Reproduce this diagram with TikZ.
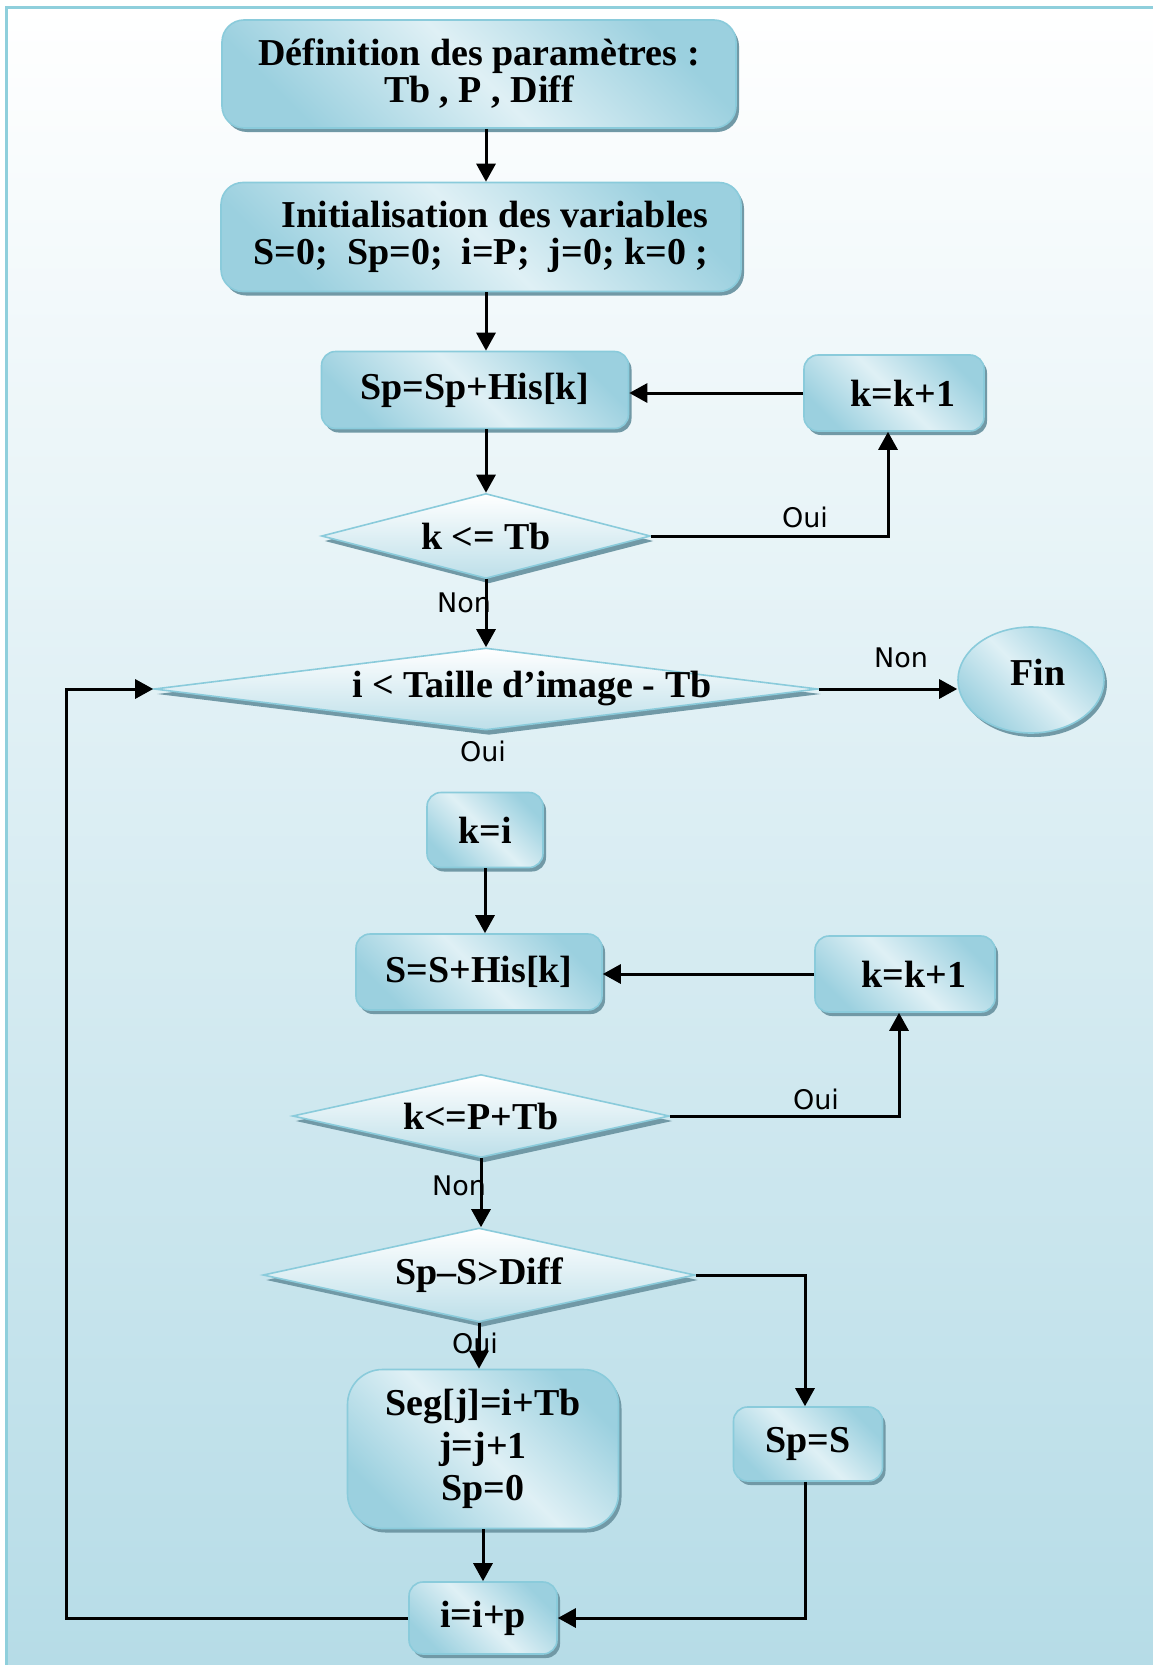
\documentclass[tikz,border=0pt]{standalone}
\usepackage{fontspec}
\setmainfont{Liberation Serif}
\newfontfamily\lblfont{DejaVu Sans}
\usetikzlibrary{arrows.meta,shapes.geometric,shadows}

\definecolor{framecol}{HTML}{8FCFDC}
\definecolor{bgmid}{HTML}{E4F2F6}
\definecolor{bgbot}{HTML}{B6DCE7}
\definecolor{boxlight}{HTML}{DFF0F5}
\definecolor{boxdark}{HTML}{9BD0DF}
\definecolor{boxedge}{HTML}{8ACBDB}
\definecolor{shadowcol}{HTML}{7199A6}
\definecolor{diabot}{HTML}{BDDFE9}

\pgfdeclarehorizontalshading{glassy}{100bp}{color(0bp)=(boxdark); color(25bp)=(boxdark); color(50bp)=(boxlight); color(75bp)=(boxdark); color(100bp)=(boxdark)}

\tikzset{
  bfont/.style={font=\bfseries\fontsize{38}{40}\selectfont},
  procbox/.style={rectangle, rounded corners=14pt, draw=boxedge, line width=1.6pt,
    shading=glassy, shading angle=45, bfont, align=center, inner sep=0pt,
    drop shadow={shadow xshift=3pt, shadow yshift=-4pt, fill=shadowcol, opacity=1}},
  decision/.style={diamond, aspect=1, draw=boxedge, line width=1.6pt,
    top color=white, bottom color=diabot, bfont, inner sep=0pt,
    drop shadow={shadow xshift=3pt, shadow yshift=-5pt, fill=shadowcol, opacity=1}},
  endnode/.style={ellipse, draw=boxedge, line width=1.6pt, shading=glassy,
    shading angle=45, bfont, inner sep=0pt,
    drop shadow={shadow xshift=3pt, shadow yshift=-4pt, fill=shadowcol, opacity=1}},
  lbl/.style={font=\lblfont\fontsize{27}{30}\selectfont, inner sep=0pt},
  arr/.style={line width=3pt, -{Triangle[length=18pt,width=19pt]}}
}

\newcommand{\dtext}[1]{\makebox[0pt][c]{#1}}

\begin{document}
\begin{tikzpicture}[x=1pt,y=-1pt]
  \useasboundingbox (0,0) rectangle (1153,1665);
  % page background and frame
  \fill[white] (0,0) rectangle (1153,1665);
  \shade[top color=white, middle color=bgmid, bottom color=bgbot] (6,7) rectangle (1153,1665);
  \draw[framecol, line width=3pt] (1153,7) -- (6,7) -- (6,1665);

  % nodes
  \node[procbox, rounded corners=22pt, minimum width=514pt, minimum height=108pt] (def) at (479,74)
    {Définition des paramètres :\\[-3pt] Tb , P , Diff};
  \node[procbox, rounded corners=22pt, minimum width=520pt, minimum height=109pt, align=right] (init) at (481,237)
    {Initialisation des variables\\[-3pt] S=0;\ \ Sp=0;\ \ i=P;\ \ j=0; k=0 ;};
  \node[procbox, minimum width=307pt, minimum height=77pt] (sp) at (475,390) {Sp=Sp+His[k]};
  \node[procbox, minimum width=180pt, minimum height=76pt] (k1) at (894,393) {\hspace*{18pt}k=k+1};
  \node[decision, minimum width=329pt, minimum height=85pt] (d1) at (486,536) {\dtext{k <= Tb}};
  \node[decision, minimum width=664pt, minimum height=82pt] (d2) at (486,689)
    {\dtext{\hspace*{92pt}i < Taille d’image - Tb}};
  \node[endnode, minimum width=146pt, minimum height=106pt] (fin) at (1031,680)
    {\raisebox{16pt}{\makebox[0pt][c]{\hspace*{14pt}Fin}}};
  \node[procbox, minimum width=116pt, minimum height=75pt] (ki) at (485,830) {k=i};
  \node[procbox, minimum width=246pt, minimum height=76pt] (sb) at (479,972) {S=S+His[k]};
  \node[procbox, minimum width=180pt, minimum height=76pt] (k2) at (905,974) {\hspace*{18pt}k=k+1};
  \node[decision, minimum width=377pt, minimum height=83pt] (d3) at (481,1116) {\dtext{k<=P+Tb}};
  \node[decision, minimum width=432pt, minimum height=94pt] (d4) at (479,1275) {\dtext{Sp–S>Diff}};
  \node[procbox, rounded corners=35pt, minimum width=271pt, minimum height=159pt,
    font=\bfseries\fontsize{38}{42.5}\selectfont] (seg) at (483,1449)
    {Seg[j]=i+Tb\\ j=j+1\\ Sp=0};
  \node[procbox, minimum width=149pt, minimum height=74pt] (sps) at (808,1444) {Sp=S};
  \node[procbox, minimum width=148pt, minimum height=72pt] (iip) at (483,1618) {i=i+p};

  % branch labels
  \node[lbl] (oui1) at (805,517) {Oui};
  \node[lbl] (non1) at (464,603) {Non};
  \node[lbl] (non2) at (901,658) {Non};
  \node[lbl] (oui2) at (483,751) {Oui};
  \node[lbl] (oui3) at (816,1099) {Oui};
  \node[lbl] (non3) at (459,1186) {Non};
  \node[lbl] (oui4) at (475,1343) {Oui};

  % columns followed by the connectors
  \coordinate (col) at (486,0);
  \coordinate (ox1) at (888,0);
  \coordinate (ox2) at (899,0);
  \coordinate (ox3) at (805,0);
  \coordinate (loopx) at (66,0);

  % connectors
  \draw[arr] (def.south -| col) -- (init.north -| col);
  \draw[arr] (init.south -| col) -- (sp.north -| col);
  \draw[arr] (sp.south -| col) -- (d1.north);
  \draw[arr] (k1.west) -- (k1.west -| sp.east);
  \draw[arr] (d1.east) -| (ox1 |- k1.south);
  \draw[arr] (d1.south) -- (d2.north);
  \draw[arr] (d2.east) -- (d2.east -| fin.west);
  \draw[arr] (ki.south) -- (ki.south |- sb.north);
  \draw[arr] (k2.west) -- (k2.west -| sb.east);
  \draw[arr] (d3.east) -| (ox2 |- k2.south);
  \draw[arr] (d3.south) -- (d3.south |- d4.north);
  \draw[arr] (d4.east) -| (ox3 |- sps.north);
  \draw[arr] (d4.south) -- (d4.south |- seg.north);
  \draw[arr] (seg.south) -- (seg.south |- iip.north);
  \draw[arr] (ox3 |- sps.south) |- (iip.east);
  \draw[arr] (iip.west) -- (iip.west -| loopx) |- (d2.west);
\end{tikzpicture}
\end{document}
